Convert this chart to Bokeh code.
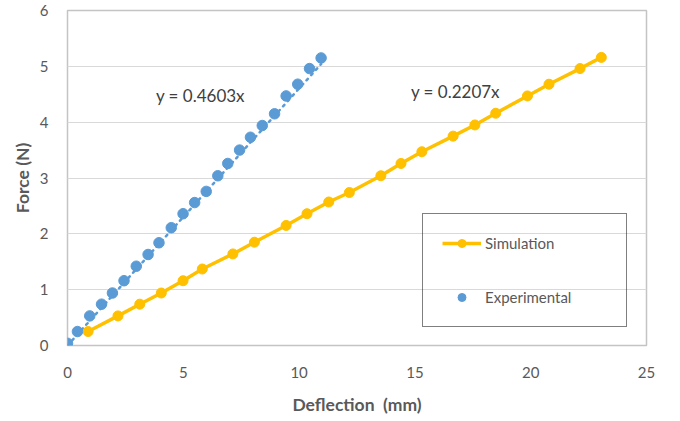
from bokeh.plotting import figure
from bokeh.models import Label, Legend, LegendItem, FixedTicker, Range1d
from bokeh.embed import file_html
from bokeh.resources import INLINE

# ---- data ----
exp_x = [0.0, 0.43, 0.96, 1.47, 1.94, 2.44, 2.97, 3.48, 3.95, 4.48, 4.99, 5.49,
         5.99, 6.49, 6.92, 7.43, 7.90, 8.41, 8.94, 9.44, 9.94, 10.45, 10.95]
exp_y = [0.04, 0.25, 0.53, 0.74, 0.94, 1.16, 1.42, 1.63, 1.84, 2.11, 2.36, 2.56,
         2.76, 3.04, 3.26, 3.50, 3.73, 3.94, 4.15, 4.47, 4.68, 4.96, 5.15]
sim_x = [0.89, 2.18, 3.12, 4.05, 4.99, 5.82, 7.14, 8.07, 9.44, 10.34, 11.28,
         12.17, 13.53, 14.40, 15.30, 16.65, 17.59, 18.49, 19.86, 20.79, 22.13, 23.05]
sim_y = [0.25, 0.53, 0.74, 0.94, 1.16, 1.37, 1.64, 1.85, 2.15, 2.36, 2.57,
         2.74, 3.04, 3.26, 3.47, 3.75, 3.95, 4.16, 4.47, 4.68, 4.96, 5.16]
exp_slope = 0.4603
sim_slope = 0.2207
x_ticks = [0, 5, 10, 15, 20, 25]
y_ticks = [0, 1, 2, 3, 4, 5, 6]
exp_eq = "y = 0.4603x"
sim_eq = "y = 0.2207x"

FONT = "Lato"
GRAY = "#595959"

p = figure(width=672, height=418, output_backend="svg", toolbar_location=None,
           x_range=Range1d(0, 25), y_range=Range1d(0, 6),
           min_border_left=67, min_border_right=26, min_border_top=10,
           min_border_bottom=73)

p.background_fill_color = "white"
p.border_fill_color = "white"
p.outline_line_color = "#c4c4c4"
p.outline_line_width = 1.5
p.xgrid.visible = False
p.ygrid.grid_line_color = "#d9d9d9"
p.ygrid.grid_line_width = 1.2

for ax in (p.xaxis[0], p.yaxis[0]):
    ax.major_tick_line_color = None
    ax.minor_tick_line_color = None
    ax.axis_line_color = None
    ax.major_label_text_font = FONT
    ax.major_label_text_font_size = "15px"
    ax.major_label_text_color = GRAY
    ax.axis_label_text_font = FONT
    ax.axis_label_text_font_size = "17.5px"
    ax.axis_label_text_font_style = "bold"
    ax.axis_label_text_color = GRAY

p.xaxis.ticker = FixedTicker(ticks=x_ticks)
p.yaxis.ticker = FixedTicker(ticks=y_ticks)
p.xaxis.axis_label = "Deflection \u00a0(mm)"
p.yaxis.axis_label = "Force (N)"
p.xaxis.major_label_standoff = 15
p.xaxis.axis_label_standoff = 13
p.yaxis.major_label_standoff = 13
p.yaxis.axis_label_standoff = 4

# experimental trendline (dotted), through origin
tx = [0, max(exp_x)]
ty = [exp_slope * v for v in tx]
p.line(tx, ty, line_color="#5b9bd5", line_width=2.5, line_dash="2 5",
       line_cap="round")

# simulation series
sim_line = p.line(sim_x, sim_y, line_color="#ffc000", line_width=3.5)
sim_pts = p.scatter(sim_x, sim_y, size=10, fill_color="#ffc000",
                    line_color="#ffc000")

# experimental points
exp_pts = p.scatter(exp_x, exp_y, size=10.5, fill_color="#5b9bd5",
                    line_color="#5b9bd5")

p.add_layout(Label(x=5.74, y=4.47, text=exp_eq, text_align="center",
                   text_baseline="middle", text_font=FONT,
                   text_font_size="17px", text_color="#404040"))
p.add_layout(Label(x=16.75, y=4.55, text=sim_eq, text_align="center",
                   text_baseline="middle", text_font=FONT,
                   text_font_size="17px", text_color="#404040"))

legend = Legend(items=[LegendItem(label="Simulation", renderers=[sim_line, sim_pts]),
                       LegendItem(label="Experimental", renderers=[exp_pts])],
                location=(355, 18), border_line_color="black",
                border_line_width=1.5, background_fill_alpha=0,
                padding=19, spacing=34, label_height=20, glyph_height=20,
                glyph_width=39, label_standoff=4, label_width=122, margin=0,
                label_text_font=FONT, label_text_font_size="15px",
                label_text_color=GRAY)
p.add_layout(legend)

open("out.html", "w").write(file_html(p, INLINE))
